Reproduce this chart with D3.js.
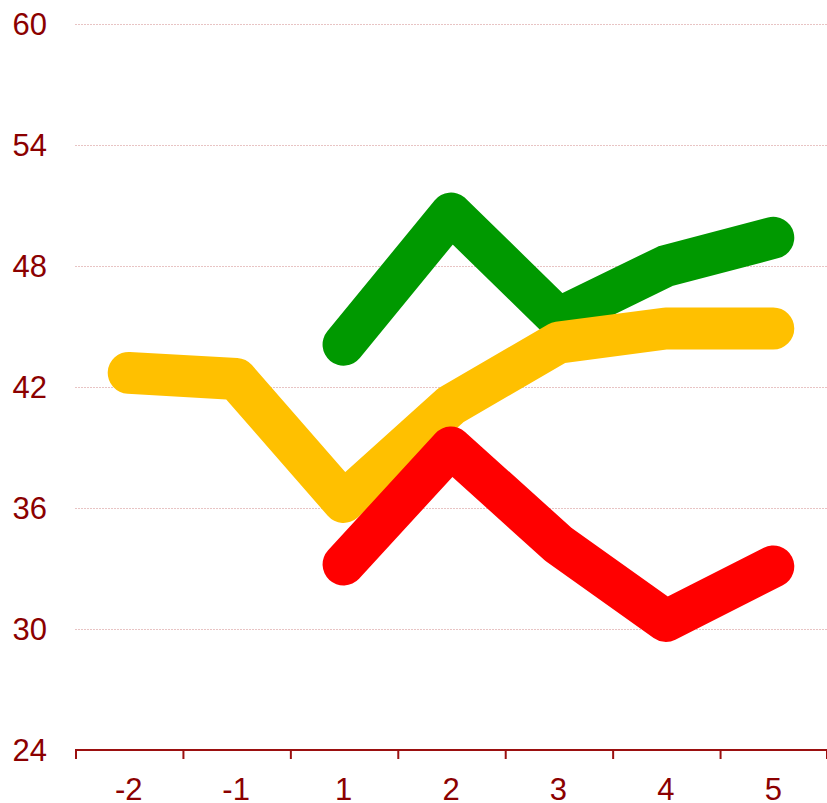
<!DOCTYPE html>
<html>
<head>
<meta charset="utf-8">
<script src="https://cdn.jsdelivr.net/npm/d3@7"></script>
<style>
  body { margin: 0; background: #fff; }
  text { font-family: "Liberation Sans", Arial, sans-serif; }
</style>
</head>
<body>
<script>
var categories = ["-2", "-1", "1", "2", "3", "4", "5"];
var yTicks = [24, 30, 36, 42, 48, 54, 60];

// null = no value for that category
var greenValues = [null, null, 44.1, 50.6, 45.4, 48.0, 49.4];
var yellowValues = [42.7, 42.4, 36.3, 41.1, 44.2, 44.9, 44.9];
var redValues = [null, null, 33.2, 39.0, 34.2, 30.4, 33.1];

var w = 827;
var h = 803;
var padLeft = 75, padRight = 827, padTop = 24, padBottom = 750;
var textColor = "#8b0000";

var svg = d3.select("body")
    .append("svg")
    .attr("width", w)
    .attr("height", h);

var x = d3.scaleBand()
    .domain(categories)
    .range([padLeft, padRight]);

var y = d3.scaleLinear()
    .domain([24, 60])
    .range([padBottom, padTop]);

// gridlines
svg.selectAll("line.grid")
    .data(yTicks.filter(function(d) { return d > 24; }))
    .enter()
    .append("line")
    .attr("class", "grid")
    .attr("x1", padLeft)
    .attr("x2", padRight)
    .attr("y1", function(d) { return y(d) + 0.5; })
    .attr("y2", function(d) { return y(d) + 0.5; })
    .style("stroke", "#e8c4c4")
    .style("stroke-width", 1)
    .style("stroke-dasharray", "2,1");

// y labels
svg.selectAll("text.ylab")
    .data(yTicks)
    .enter()
    .append("text")
    .attr("class", "ylab")
    .attr("x", 47)
    .attr("y", function(d) { return y(d); })
    .attr("dy", "0.36em")
    .attr("text-anchor", "end")
    .style("font-size", "31px")
    .style("fill", textColor)
    .text(function(d) { return d; });

// x axis
var xAxis = svg.append("g")
    .attr("transform", "translate(0," + padBottom + ")");

xAxis.append("line")
    .attr("x1", padLeft)
    .attr("x2", padRight)
    .style("stroke", "#9b1010")
    .style("stroke-width", 2);

var bounds = categories.map(function(c) { return x(c); }).concat([padRight - 1]);
xAxis.selectAll("line.tick")
    .data(bounds)
    .enter()
    .append("line")
    .attr("class", "tick")
    .attr("x1", function(d) { return d + 1; })
    .attr("x2", function(d) { return d + 1; })
    .attr("y1", 0)
    .attr("y2", 9)
    .style("stroke", "#9b1010")
    .style("stroke-width", 2);

xAxis.selectAll("text")
    .data(categories)
    .enter()
    .append("text")
    .attr("x", function(d) { return x(d) + x.bandwidth() / 2; })
    .attr("y", 50)
    .attr("text-anchor", "middle")
    .style("font-size", "31px")
    .style("fill", textColor)
    .text(function(d) { return d; });

// lines
var line = d3.line()
    .defined(function(d) { return d != null; })
    .x(function(d, i) { return x(categories[i]) + x.bandwidth() / 2; })
    .y(function(d) { return y(d); });

var series = [
    { values: greenValues, color: "#009900" },
    { values: yellowValues, color: "#ffc000" },
    { values: redValues, color: "#ff0000" }
];

svg.selectAll("path.series")
    .data(series)
    .enter()
    .append("path")
    .attr("class", "series")
    .attr("d", function(d) { return line(d.values); })
    .style("fill", "none")
    .style("stroke", function(d) { return d.color; })
    .style("stroke-width", 42)
    .style("stroke-linecap", "round")
    .style("stroke-linejoin", "round");
</script>
</body>
</html>
